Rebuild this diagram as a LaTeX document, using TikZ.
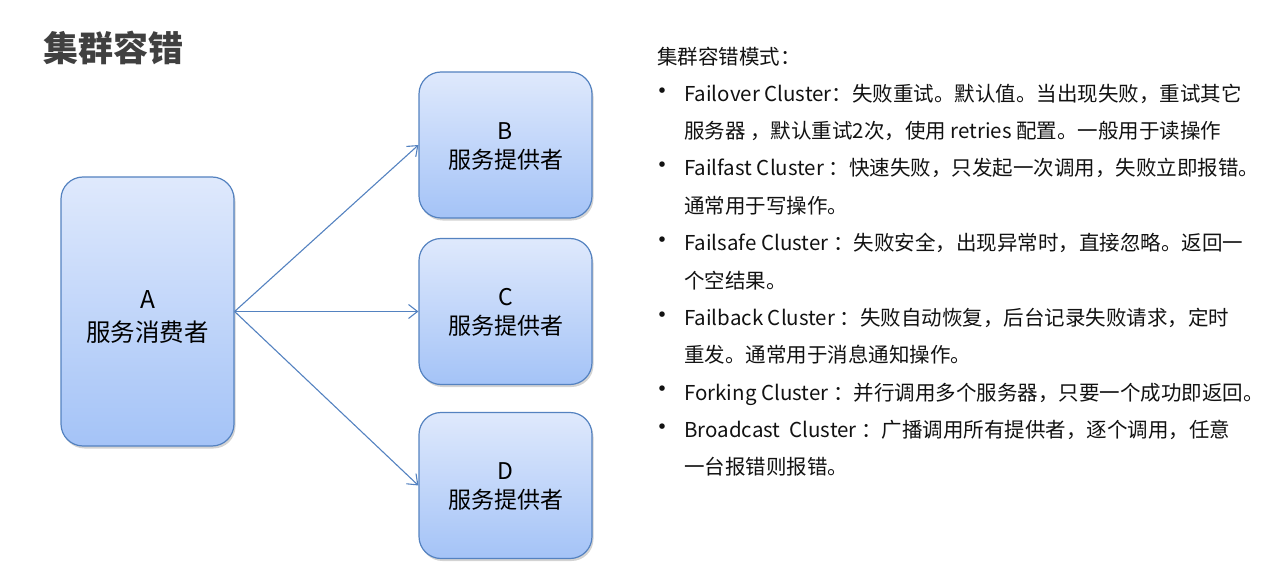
\documentclass[tikz,border=0pt]{standalone}
\usepackage{fontspec}
\usetikzlibrary{arrows.meta,shadows}
\newfontfamily\cjk{Noto Sans CJK SC}
\definecolor{boxtop}{RGB}{223,233,252}
\definecolor{boxbot}{RGB}{164,195,247}
\definecolor{boxline}{RGB}{84,130,192}
\definecolor{titlegray}{RGB}{64,64,64}
\definecolor{textgray}{RGB}{18,18,18}

\begin{document}
\begin{tikzpicture}[x=1pt, y=-1pt, font=\cjk,
  box/.style={draw=boxline, line width=1.2pt, rounded corners=22pt,
    top color=boxtop, bottom color=boxbot, align=center, inner sep=0pt,
    minimum width=173pt, text=black,
    drop shadow={shadow xshift=1.5pt, shadow yshift=-2.5pt, opacity=0.35}},
  link/.style={draw=boxline, line width=1.1pt, -{Straight Barb[length=9pt,width=14pt]}},
  txtline/.style={anchor=base west, text=textgray, inner sep=0pt,
    font=\cjk\fontsize{20.5}{24}\selectfont},
  bulletmark/.style={text=textgray, inner sep=0pt, font=\cjk\fontsize{26}{28}\selectfont}]
  \useasboundingbox (0,0) rectangle (1287,580);

  % title
  \node[anchor=west, inner sep=0pt, text=titlegray,
    font=\cjk\bfseries\fontsize{35}{40}\selectfont] (title) at (43,48) {集群容错};

  % consumer and providers
  \node[box, minimum height=269pt, text height=62pt, font=\cjk\fontsize{24.5}{33}\selectfont] (A) at (147.5,311.5) {A\\服务消费者};
  \node[box, minimum height=146pt, text height=48pt, font=\cjk\fontsize{23}{29}\selectfont] (B) at (505.5,145) {B\\服务提供者};
  \node[box, minimum height=146pt, text height=48pt, font=\cjk\fontsize{23}{29}\selectfont] (C) at (505.5,311.5) {C\\服务提供者};
  \node[box, minimum height=146pt, text height=48pt, font=\cjk\fontsize{23}{29}\selectfont] (D) at (505.5,485.5) {D\\服务提供者};

  \draw[link] (A.east) -- (B.west);
  \draw[link] (A.east) -- (C.west);
  \draw[link] (A.east) -- (D.west);

  % list of modes
  \node[txtline] (head) at (657,64.5) {集群容错模式：};
  \node[bulletmark] (b1) at (662,94) {•};
  \node[txtline] (l1) at (684,101.5) {Failover Cluster：失败重试。默认值。当出现失败，重试其它};
  \node[txtline] (l1b) at (684,138.5) {服务器 ，默认重试2次，使用 retries 配置。一般用于读操作};
  \node[bulletmark] (b2) at (662,168.5) {•};
  \node[txtline] (l2) at (684,176) {Failfast Cluster ：快速失败，只发起一次调用，失败立即报错。};
  \node[txtline] (l2b) at (684,213.5) {通常用于写操作。};
  \node[bulletmark] (b3) at (662,243) {•};
  \node[txtline] (l3) at (684,250.5) {Failsafe Cluster ：失败安全，出现异常时，直接忽略。返回一};
  \node[txtline] (l3b) at (684,288) {个空结果。};
  \node[bulletmark] (b4) at (662,318) {•};
  \node[txtline] (l4) at (684,325.5) {Failback Cluster ：失败自动恢复，后台记录失败请求，定时};
  \node[txtline] (l4b) at (684,362.5) {重发。通常用于消息通知操作。};
  \node[bulletmark] (b5) at (662,392.5) {•};
  \node[txtline] (l5) at (684,400) {Forking Cluster ：并行调用多个服务器，只要一个成功即返回。};
  \node[bulletmark] (b6) at (662,430) {•};
  \node[txtline] (l6) at (684,437.5) {Broadcast\ \ Cluster ：广播调用所有提供者，逐个调用，任意};
  \node[txtline] (l6b) at (684,474.5) {一台报错则报错。};
\end{tikzpicture}
\end{document}
